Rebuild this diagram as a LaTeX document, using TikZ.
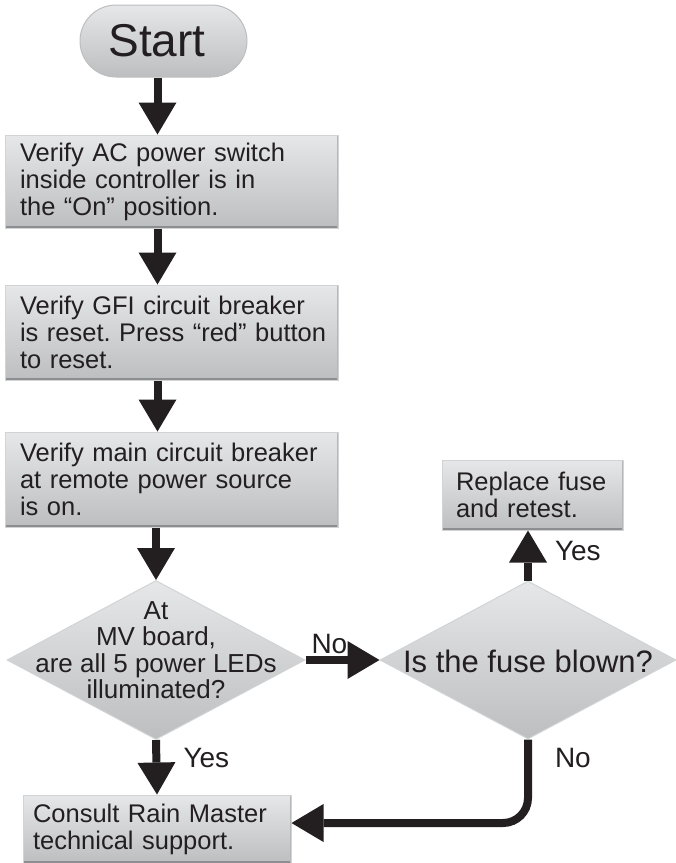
\documentclass[tikz,border=0pt]{standalone}
\usepackage{fontspec}
\setmainfont{Liberation Sans}
\usetikzlibrary{arrows.meta,shapes.geometric}

\definecolor{ink}{HTML}{231F20}
\definecolor{shadetop}{HTML}{E6E7E8}
\definecolor{shadebot}{HTML}{BCBEC0}
\definecolor{rimlight}{HTML}{D1D3D4}
\definecolor{rimdark}{HTML}{8C8E91}

\frenchspacing

% text that does not make a diamond grow
\newcommand{\diamtext}[2][0pt]{\smash{\makebox[0pt]{\raisebox{#1}{\begin{tabular}{@{}c@{}}#2\end{tabular}}}}}

\begin{document}
\begin{tikzpicture}[
    x=1pt,
    y=-1pt,
    >={Triangle[length=32pt,width=38pt,line width=0pt]},
    terminal/.style={
        draw=shadebot,
        line width=1pt,
        top color=shadetop,
        bottom color=shadebot,
        rounded corners=36pt,
        minimum width=167pt,
        minimum height=72pt,
        inner sep=0pt,
        text=ink,
        font=\fontsize{46}{46}\selectfont
    },
    process/.style={
        draw=rimlight,
        line width=1pt,
        top color=shadetop,
        bottom color=shadebot,
        align=left,
        inner ysep=0pt,
        text=ink,
        font=\fontsize{25.5}{27}\selectfont,
        path picture={
            \draw[rimdark,line width=4pt]
                (path picture bounding box.south west) --
                (path picture bounding box.south east);
            \draw[rimlight!60!rimdark,line width=2pt]
                (path picture bounding box.north east) --
                (path picture bounding box.south east);
        }
    },
    decision/.style={
        draw=rimlight,
        line width=1pt,
        shape=diamond,
        top color=shadetop,
        bottom color=shadebot,
        inner sep=0pt,
        text=ink,
        font=\fontsize{26}{25}\selectfont
    },
    flow/.style={
        ->,
        draw=ink,
        line width=8pt
    },
    answer/.style={
        text=ink,
        inner sep=0pt,
        font=\fontsize{28}{28}\selectfont
    }
]

\useasboundingbox (0,0) rectangle (676,863);

%%%%%%%%%%%%%%%%%%%%%%%%%%%%%%%%%%%%%%%%%%%%%%%%%%%%
%% Main column
%%%%%%%%%%%%%%%%%%%%%%%%%%%%%%%%%%%%%%%%%%%%%%%%%%%%

\node[terminal] (start) at (163.5,41) {Start\kern13pt};

\node[process,minimum height=93pt,inner xsep=15pt,text width=303pt]
    (acswitch) at (171.5,181.5)
{Verify AC power switch\\inside controller is in\\the “On” position.};

\node[process,minimum height=95pt,inner xsep=15pt,text width=303pt]
    (gfibreaker) at (171.5,332.5)
{Verify GFI circuit breaker\\\mbox{is reset. Press “red” button}\\to reset.};

\node[process,minimum height=95pt,inner xsep=15pt,text width=303pt]
    (mainbreaker) at (171.5,479.5)
{Verify main circuit breaker\\at remote power source\\is on.};

\node[decision,minimum width=298pt,minimum height=159pt]
    (leds) at (156,660)
{\diamtext{At\\MV board,\\are all 5 power LEDs\\illuminated?}};

\node[process,minimum height=68pt,inner xsep=10pt,text width=248pt]
    (consult) at (157,829)
{Consult Rain Master\\technical support.};

%%%%%%%%%%%%%%%%%%%%%%%%%%%%%%%%%%%%%%%%%%%%%%%%%%%%
%% Fuse branch
%%%%%%%%%%%%%%%%%%%%%%%%%%%%%%%%%%%%%%%%%%%%%%%%%%%%

\node[decision,minimum width=296pt,minimum height=158pt,
      font=\fontsize{31}{31}\selectfont]
    (fuse) at (528,660)
{\diamtext[-12pt]{Is the fuse blown?}};

\node[process,minimum height=70pt,inner xsep=14pt,text width=153pt]
    (replace) at (532.5,495)
{Replace fuse\\and retest.};

%%%%%%%%%%%%%%%%%%%%%%%%%%%%%%%%%%%%%%%%%%%%%%%%%%%%
%% Arrows
%%%%%%%%%%%%%%%%%%%%%%%%%%%%%%%%%%%%%%%%%%%%%%%%%%%%

\coordinate (spine) at (157.5,0);

\draw[flow] (start.south -| spine) -- (acswitch.north -| spine);
\draw[flow] (acswitch.south -| spine) -- (gfibreaker.north -| spine);
\draw[flow] (gfibreaker.south -| spine) -- (mainbreaker.north -| spine);
\draw[flow] (mainbreaker.south -| leds.north) -- (leds.north);

\draw[flow] (leds.south) --
    node[answer,pos=0.5,anchor=base west,xshift=23pt] {Yes}
    (consult.north);

\draw[flow] (leds.east) --
    node[answer,pos=0,anchor=base west,xshift=2pt,yshift=7pt] {No}
    (fuse.west);

\draw[flow] (fuse.north) --
    node[answer,pos=0.4,anchor=base west,xshift=23pt] {Yes}
    (replace.south -| fuse.north);

\draw[flow,rounded corners=25pt] (fuse.south) |-
    node[answer,pos=0.17,anchor=base west,xshift=23pt] {No}
    ([yshift=6pt]consult.east);

\end{tikzpicture}
\end{document}
